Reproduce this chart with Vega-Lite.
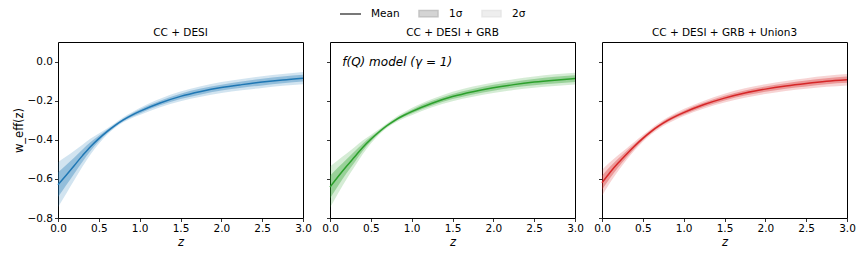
{
  "$schema": "https://vega.github.io/schema/vega-lite/v6.json",
  "padding": {"left": 12, "top": 2, "right": 5, "bottom": 2},
  "background": "white",
  "bounds": "flush",
  "datasets": {
    "A": [
      {"z": 0, "mean": -0.630, "lo2": -0.745, "hi2": -0.515, "lo1": -0.693, "hi1": -0.567},
      {"z": 0.1, "mean": -0.581, "lo2": -0.676, "hi2": -0.486, "lo1": -0.633, "hi1": -0.529},
      {"z": 0.2, "mean": -0.531, "lo2": -0.606, "hi2": -0.456, "lo1": -0.572, "hi1": -0.490},
      {"z": 0.3, "mean": -0.481, "lo2": -0.537, "hi2": -0.425, "lo1": -0.512, "hi1": -0.450},
      {"z": 0.4, "mean": -0.434, "lo2": -0.474, "hi2": -0.394, "lo1": -0.456, "hi1": -0.412},
      {"z": 0.5, "mean": -0.394, "lo2": -0.420, "hi2": -0.368, "lo1": -0.408, "hi1": -0.380},
      {"z": 0.6, "mean": -0.358, "lo2": -0.374, "hi2": -0.342, "lo1": -0.367, "hi1": -0.349},
      {"z": 0.7, "mean": -0.326, "lo2": -0.338, "hi2": -0.314, "lo1": -0.333, "hi1": -0.319},
      {"z": 0.8, "mean": -0.298, "lo2": -0.311, "hi2": -0.285, "lo1": -0.305, "hi1": -0.291},
      {"z": 0.9, "mean": -0.275, "lo2": -0.290, "hi2": -0.260, "lo1": -0.283, "hi1": -0.267},
      {"z": 1.0, "mean": -0.255, "lo2": -0.273, "hi2": -0.237, "lo1": -0.265, "hi1": -0.245},
      {"z": 1.25, "mean": -0.212, "lo2": -0.234, "hi2": -0.190, "lo1": -0.224, "hi1": -0.200},
      {"z": 1.5, "mean": -0.178, "lo2": -0.203, "hi2": -0.153, "lo1": -0.192, "hi1": -0.164},
      {"z": 1.75, "mean": -0.153, "lo2": -0.180, "hi2": -0.126, "lo1": -0.168, "hi1": -0.138},
      {"z": 2.0, "mean": -0.133, "lo2": -0.161, "hi2": -0.105, "lo1": -0.148, "hi1": -0.118},
      {"z": 2.25, "mean": -0.118, "lo2": -0.147, "hi2": -0.089, "lo1": -0.134, "hi1": -0.102},
      {"z": 2.5, "mean": -0.105, "lo2": -0.135, "hi2": -0.075, "lo1": -0.122, "hi1": -0.088},
      {"z": 2.75, "mean": -0.094, "lo2": -0.124, "hi2": -0.064, "lo1": -0.111, "hi1": -0.077},
      {"z": 3.0, "mean": -0.085, "lo2": -0.116, "hi2": -0.054, "lo1": -0.102, "hi1": -0.068}
    ],
    "B": [
      {"z": 0, "mean": -0.642, "lo2": -0.747, "hi2": -0.537, "lo1": -0.700, "hi1": -0.584},
      {"z": 0.1, "mean": -0.588, "lo2": -0.673, "hi2": -0.503, "lo1": -0.635, "hi1": -0.541},
      {"z": 0.2, "mean": -0.537, "lo2": -0.603, "hi2": -0.471, "lo1": -0.573, "hi1": -0.501},
      {"z": 0.3, "mean": -0.488, "lo2": -0.538, "hi2": -0.438, "lo1": -0.516, "hi1": -0.460},
      {"z": 0.4, "mean": -0.439, "lo2": -0.474, "hi2": -0.404, "lo1": -0.458, "hi1": -0.420},
      {"z": 0.5, "mean": -0.397, "lo2": -0.419, "hi2": -0.375, "lo1": -0.409, "hi1": -0.385},
      {"z": 0.6, "mean": -0.360, "lo2": -0.374, "hi2": -0.346, "lo1": -0.368, "hi1": -0.352},
      {"z": 0.7, "mean": -0.327, "lo2": -0.339, "hi2": -0.315, "lo1": -0.334, "hi1": -0.320},
      {"z": 0.8, "mean": -0.299, "lo2": -0.312, "hi2": -0.286, "lo1": -0.306, "hi1": -0.292},
      {"z": 0.9, "mean": -0.276, "lo2": -0.291, "hi2": -0.261, "lo1": -0.284, "hi1": -0.268},
      {"z": 1.0, "mean": -0.256, "lo2": -0.274, "hi2": -0.238, "lo1": -0.266, "hi1": -0.246},
      {"z": 1.25, "mean": -0.213, "lo2": -0.234, "hi2": -0.192, "lo1": -0.225, "hi1": -0.201},
      {"z": 1.5, "mean": -0.179, "lo2": -0.203, "hi2": -0.155, "lo1": -0.192, "hi1": -0.166},
      {"z": 1.75, "mean": -0.154, "lo2": -0.180, "hi2": -0.128, "lo1": -0.168, "hi1": -0.140},
      {"z": 2.0, "mean": -0.134, "lo2": -0.161, "hi2": -0.107, "lo1": -0.149, "hi1": -0.119},
      {"z": 2.25, "mean": -0.118, "lo2": -0.146, "hi2": -0.090, "lo1": -0.133, "hi1": -0.103},
      {"z": 2.5, "mean": -0.105, "lo2": -0.134, "hi2": -0.076, "lo1": -0.121, "hi1": -0.089},
      {"z": 2.75, "mean": -0.095, "lo2": -0.125, "hi2": -0.065, "lo1": -0.112, "hi1": -0.078},
      {"z": 3.0, "mean": -0.087, "lo2": -0.117, "hi2": -0.057, "lo1": -0.104, "hi1": -0.070}
    ],
    "C": [
      {"z": 0, "mean": -0.620, "lo2": -0.686, "hi2": -0.554, "lo1": -0.656, "hi1": -0.584},
      {"z": 0.1, "mean": -0.566, "lo2": -0.618, "hi2": -0.514, "lo1": -0.595, "hi1": -0.537},
      {"z": 0.2, "mean": -0.518, "lo2": -0.558, "hi2": -0.478, "lo1": -0.540, "hi1": -0.496},
      {"z": 0.3, "mean": -0.474, "lo2": -0.504, "hi2": -0.444, "lo1": -0.491, "hi1": -0.457},
      {"z": 0.4, "mean": -0.432, "lo2": -0.454, "hi2": -0.410, "lo1": -0.444, "hi1": -0.420},
      {"z": 0.5, "mean": -0.393, "lo2": -0.410, "hi2": -0.376, "lo1": -0.402, "hi1": -0.384},
      {"z": 0.6, "mean": -0.358, "lo2": -0.373, "hi2": -0.343, "lo1": -0.366, "hi1": -0.350},
      {"z": 0.7, "mean": -0.328, "lo2": -0.343, "hi2": -0.313, "lo1": -0.336, "hi1": -0.320},
      {"z": 0.8, "mean": -0.302, "lo2": -0.318, "hi2": -0.286, "lo1": -0.311, "hi1": -0.293},
      {"z": 0.9, "mean": -0.280, "lo2": -0.297, "hi2": -0.263, "lo1": -0.289, "hi1": -0.271},
      {"z": 1.0, "mean": -0.261, "lo2": -0.279, "hi2": -0.243, "lo1": -0.271, "hi1": -0.251},
      {"z": 1.25, "mean": -0.220, "lo2": -0.240, "hi2": -0.200, "lo1": -0.231, "hi1": -0.209},
      {"z": 1.5, "mean": -0.187, "lo2": -0.209, "hi2": -0.165, "lo1": -0.199, "hi1": -0.175},
      {"z": 1.75, "mean": -0.161, "lo2": -0.185, "hi2": -0.137, "lo1": -0.174, "hi1": -0.148},
      {"z": 2.0, "mean": -0.141, "lo2": -0.166, "hi2": -0.116, "lo1": -0.155, "hi1": -0.127},
      {"z": 2.25, "mean": -0.125, "lo2": -0.151, "hi2": -0.099, "lo1": -0.139, "hi1": -0.111},
      {"z": 2.5, "mean": -0.112, "lo2": -0.139, "hi2": -0.085, "lo1": -0.127, "hi1": -0.097},
      {"z": 2.75, "mean": -0.101, "lo2": -0.129, "hi2": -0.073, "lo1": -0.116, "hi1": -0.086},
      {"z": 3.0, "mean": -0.093, "lo2": -0.122, "hi2": -0.064, "lo1": -0.109, "hi1": -0.077}
    ],
    "legend": [
      {"item": "Mean", "z": -1, "w": 0},
      {"item": "1σ", "z": -1, "w": 0},
      {"item": "2σ", "z": -1, "w": 0}
    ],
    "note": [
      {"z": 0.15, "w": 0.0, "label": "f(Q) model (γ = 1)"}
    ]
  },
  "hconcat": [
    {
      "width": 245, "height": 176,
      "title": "CC + DESI",
      "data": {"name": "A"},
      "encoding": {
        "x": {"field": "z", "type": "quantitative", "scale": {"domain": [0, 3], "nice": false},
              "axis": {"values": [0, 0.5, 1, 1.5, 2, 2.5, 3], "format": ".1f", "title": "z"}}
      },
      "layer": [
        {"mark": {"type": "area", "color": "#1f77b4", "opacity": 0.2, "interpolate": "monotone"},
         "encoding": {"y": {"field": "lo2", "type": "quantitative", "scale": {"domain": [-0.8, 0.1], "nice": false},
                            "axis": {"values": [-0.8, -0.6, -0.4, -0.2, 0.0], "format": ".1f", "title": "w_eff(z)"}},
                      "y2": {"field": "hi2"}}},
        {"mark": {"type": "area", "color": "#1f77b4", "opacity": 0.35, "interpolate": "monotone"},
         "encoding": {"y": {"field": "lo1", "type": "quantitative"}, "y2": {"field": "hi1"}}},
        {"mark": {"type": "line", "color": "#1f77b4", "strokeWidth": 1.5, "interpolate": "monotone"},
         "encoding": {"y": {"field": "mean", "type": "quantitative"}}}
      ]
    },
    {
      "width": 245, "height": 176,
      "title": "CC + DESI + GRB",
      "data": {"name": "B"},
      "encoding": {
        "x": {"field": "z", "type": "quantitative", "scale": {"domain": [0, 3], "nice": false},
              "axis": {"values": [0, 0.5, 1, 1.5, 2, 2.5, 3], "format": ".1f", "title": "z"}}
      },
      "layer": [
        {"mark": {"type": "area", "color": "#2ca02c", "opacity": 0.2, "interpolate": "monotone"},
         "encoding": {"y": {"field": "lo2", "type": "quantitative", "scale": {"domain": [-0.8, 0.1], "nice": false},
                            "axis": {"values": [-0.8, -0.6, -0.4, -0.2, 0.0], "labels": false, "title": null}},
                      "y2": {"field": "hi2"}}},
        {"mark": {"type": "area", "color": "#2ca02c", "opacity": 0.35, "interpolate": "monotone"},
         "encoding": {"y": {"field": "lo1", "type": "quantitative"}, "y2": {"field": "hi1"}}},
        {"mark": {"type": "line", "color": "#2ca02c", "strokeWidth": 1.5, "interpolate": "monotone"},
         "encoding": {"y": {"field": "mean", "type": "quantitative"}}},
        {"data": {"name": "note"},
         "mark": {"type": "text", "align": "left", "baseline": "middle", "fontSize": 12, "fontStyle": "italic", "font": "DejaVu Sans", "color": "black"},
         "encoding": {"x": {"field": "z", "type": "quantitative"}, "y": {"field": "w", "type": "quantitative"}, "text": {"field": "label"}}},
        {"data": {"name": "legend"},
         "mark": {"type": "point", "filled": true, "clip": true},
         "encoding": {
           "x": {"field": "z", "type": "quantitative"},
           "y": {"field": "w", "type": "quantitative"},
           "fill": {"field": "item", "type": "nominal",
                    "scale": {"domain": ["Mean", "1σ", "2σ"], "range": ["#000000", "#aaaaaa", "#dddddd"]},
                    "legend": {"orient": "none", "legendX": 281, "legendY": -40, "direction": "horizontal", "title": null,
                               "symbolSize": 441, "symbolStrokeWidth": 1.5, "labelFontSize": 10.5, "labelFont": "DejaVu Sans",
                               "columnPadding": 16, "labelOffset": 9, "labelColor": "black"}},
           "stroke": {"field": "item", "type": "nominal",
                      "scale": {"domain": ["Mean", "1σ", "2σ"], "range": ["#000000", "#aaaaaa", "#dddddd"]}},
           "shape": {"field": "item", "type": "nominal",
                     "scale": {"domain": ["Mean", "1σ", "2σ"], "range": ["M-1,0L1,0", "M-0.9,-0.3L0.9,-0.3L0.9,0.3L-0.9,0.3Z", "M-0.9,-0.3L0.9,-0.3L0.9,0.3L-0.9,0.3Z"]}}
         }}
      ]
    },
    {
      "width": 245, "height": 176,
      "title": "CC + DESI + GRB + Union3",
      "data": {"name": "C"},
      "encoding": {
        "x": {"field": "z", "type": "quantitative", "scale": {"domain": [0, 3], "nice": false},
              "axis": {"values": [0, 0.5, 1, 1.5, 2, 2.5, 3], "format": ".1f", "title": "z"}}
      },
      "layer": [
        {"mark": {"type": "area", "color": "#d62728", "opacity": 0.2, "interpolate": "monotone"},
         "encoding": {"y": {"field": "lo2", "type": "quantitative", "scale": {"domain": [-0.8, 0.1], "nice": false},
                            "axis": {"values": [-0.8, -0.6, -0.4, -0.2, 0.0], "labels": false, "title": null}},
                      "y2": {"field": "hi2"}}},
        {"mark": {"type": "area", "color": "#d62728", "opacity": 0.35, "interpolate": "monotone"},
         "encoding": {"y": {"field": "lo1", "type": "quantitative"}, "y2": {"field": "hi1"}}},
        {"mark": {"type": "line", "color": "#d62728", "strokeWidth": 1.5, "interpolate": "monotone"},
         "encoding": {"y": {"field": "mean", "type": "quantitative"}}}
      ]
    }
  ],
  "spacing": 27,
  "config": {
    "font": "DejaVu Sans",
    "view": {"stroke": "black", "strokeWidth": 1},
    "axis": {"grid": false, "domain": false, "tickColor": "black", "tickSize": 3.5, "tickWidth": 0.8,
             "labelColor": "black", "labelFontSize": 10.5, "labelFont": "DejaVu Sans", "labelPadding": 2, "labelFlush": false,
             "titleColor": "black", "titleFontSize": 11.5, "titleFont": "DejaVu Sans", "titleFontWeight": "normal"},
    "axisX": {"titleFontStyle": "italic", "titlePadding": 2},
    "axisY": {"titlePadding": 3},
    "title": {"fontSize": 10.5, "fontWeight": "normal", "font": "DejaVu Sans", "color": "black", "offset": 4}
  }
}
